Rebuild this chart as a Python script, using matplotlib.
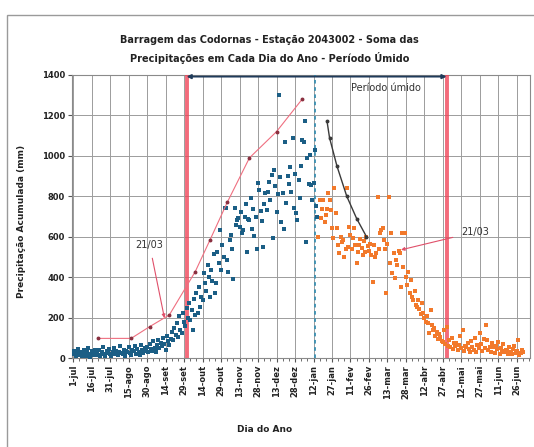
import matplotlib
matplotlib.use("Agg")
import matplotlib.pyplot as plt
from matplotlib.patches import Rectangle

# ---------------- data ----------------
tick_labels = ["1-jul", "16-jul", "31-jul", "15-ago", "30-ago", "14-set", "29-set",
               "14-out", "29-out", "13-nov", "28-nov", "13-dez", "28-dez", "12-jan",
               "27-jan", "11-fev", "26-fev", "13-mar", "28-mar", "12-abr", "27-abr",
               "12-mai", "27-mai", "11-jun", "26-jun"]
tick_days = [0, 15, 30, 45, 60, 75, 90, 105, 120, 135, 150, 165, 180, 195,
             210, 225, 240, 255, 270, 285, 300, 315, 330, 345, 360]

blue_start = 0
blue_vals = [
    20, 35, 10, 25, 45, 15, 30, 8, 22, 40, 12, 28, 50, 18, 6, 33, 24, 14, 42, 27,
    16, 38, 9, 30, 55, 20, 12, 35, 26, 44, 18, 8, 29, 48, 22, 36, 14, 31, 60, 25,
    19, 42, 11, 34, 28, 52, 23, 15, 40, 33, 58, 21, 45, 30, 17, 63, 38, 26, 49, 35,
    55, 28, 70, 44, 36, 82, 50, 31, 65, 90, 47, 75, 58, 100, 68, 42, 110, 85, 62, 95,
    130, 88, 150, 115, 175, 105, 210, 140, 125, 225, 180, 160,
    245, 200, 270, 188, 238, 139, 290, 215, 322, 223, 350, 254, 300,
    287, 421, 371, 330, 460, 400, 302, 436, 380, 515, 322, 371, 526, 470, 634,
    436, 560, 500, 742, 744, 485, 427, 584, 610, 540, 391, 744, 660, 683, 695, 650, 720, 617, 634, 700,
    760, 526, 688, 683, 790, 640, 738, 604, 700, 540, 866, 830, 725, 680, 551, 760, 815, 733, 823, 870,
    780, 906, 594, 930, 850, 720, 810, 1300, 897, 675, 815, 640, 1070, 767, 900, 860, 946, 820, 1087, 740,
    911, 718, 683, 880, 790, 950, 1080, 1070, 1170, 576, 990, 860, 1005, 856, 780, 866, 1030, 750, 700]

orange_start = 199
orange_vals = [
    600, 782, 693, 738, 782, 675, 708, 738, 815, 782, 733, 644,
    594, 841, 718, 644, 560, 520, 600, 575, 584, 500, 540, 841, 550, 650, 610, 540, 596, 644, 560, 470,
    526, 560, 590, 545, 510, 580, 526, 600, 555, 530, 564, 510, 378, 560, 500, 520, 798, 540, 619, 634,
    644, 585, 540, 322, 564, 798, 470, 619, 421, 520, 396, 485, 460, 530, 520, 353, 620, 452, 619, 402,
    360, 427, 322, 386, 300, 287, 330, 260, 254, 287, 240, 220, 270, 223, 198, 180, 210, 173, 124, 238,
    163, 139, 150, 110, 130, 95, 120, 104, 85, 81, 140, 70, 155, 60, 90, 54, 99, 45, 75, 60,
    74, 40, 65, 110, 50, 139, 35, 60, 54, 74, 45, 30, 85, 55, 40, 100, 28, 62, 48, 124,
    70, 35, 95, 50, 163, 89, 40, 54, 30, 75, 54, 25, 60, 45, 80, 20, 50, 35, 68, 28,
    40, 40, 22, 55, 30, 18, 45, 60, 25, 35, 89, 15, 25, 40, 30]

red_days = [20, 47, 62, 78, 99, 111, 125, 143, 165, 186]
red_vals = [97, 97, 155, 213, 427, 584, 770, 990, 1120, 1282]

dark_days = [206, 208, 214, 222, 230, 238]
dark_vals = [1170, 1090, 950, 800, 690, 600]

wet_start, wet_end = 92, 303
peak_day = 196

blue_days = list(range(blue_start, blue_start + len(blue_vals)))
orange_days = list(range(orange_start, orange_start + len(orange_vals)))

# ---------------- figure ----------------
W, H = 534, 447
fig = plt.figure(figsize=(W / 100, H / 100), dpi=100)
fig.patch.set_facecolor("white")
fig.patches.append(Rectangle((7 / W, -0.05), 1.2, 1 - 15 / H + 0.05,
                             transform=fig.transFigure, fill=False,
                             edgecolor="#9a9a9a", lw=1.0))

ax = fig.add_axes([72 / W, 1 - 358 / H, (530 - 72) / W, (358 - 75) / H])
ax.set_xlim(-1, 370.7)
ax.set_ylim(0, 1400)

ax.set_xticks(tick_days)
ax.set_xticklabels(tick_labels, rotation=90, fontsize=6, fontweight="bold", color="#222222")
ax.set_xticks(list(range(0, 371, 5)), minor=True)
ax.set_yticks(list(range(0, 1401, 200)))
ax.set_yticklabels([str(v) for v in range(0, 1401, 200)], fontsize=6, fontweight="bold", color="#222222")
ax.tick_params(axis="both", which="major", length=3, color="#555555", pad=2)
ax.tick_params(axis="x", which="minor", length=2, color="#555555")
ax.grid(True, which="major", color="#9c9c9c", lw=0.7)
ax.set_axisbelow(True)
for s in ax.spines.values():
    s.set_color("#8a8a8a")
    s.set_linewidth(0.8)

# wet period vertical lines
ax.axvline(wet_start, color="#f0465a", lw=2.8, alpha=0.8, zorder=3)
ax.axvline(wet_end, color="#f0465a", lw=2.8, alpha=0.8, zorder=3)
ax.axvline(peak_day, color="#3a8fb0", lw=1.3, ls=(0, (2, 2)), zorder=3)

# scatter
ax.scatter(blue_days, blue_vals, s=6, marker="s", color="#1b5e85", zorder=4, linewidths=0)
ax.scatter(orange_days, orange_vals, s=6, marker="s", color="#f2792b", zorder=4, linewidths=0)

# curves
ax.plot(red_days, red_vals, color="#ef6f80", lw=0.8, marker="o", ms=1.8,
        mfc="#8a3040", mec="#8a3040", zorder=5)
ax.plot(dark_days, dark_vals, color="#3a3a3a", lw=1.0, marker="o", ms=1.8, zorder=5)

# wet period arrow
ax.annotate("", xy=(wet_start, 1392), xytext=(wet_end, 1392),
            arrowprops=dict(arrowstyle="<|-|>", color="#1f3b5a", lw=1.3,
                            mutation_scale=6, shrinkA=0, shrinkB=0), zorder=6)
ax.text(254, 1336, "Período úmido", fontsize=7, color="#333333", ha="center", va="center")

# annotations
ax.annotate("21/03", xy=(74, 198), xytext=(62, 559), fontsize=7, color="#333333",
            ha="center", va="center",
            arrowprops=dict(arrowstyle="-|>", color="#e0506a", lw=0.8,
                            mutation_scale=5, shrinkA=4, shrinkB=0))
ax.annotate("21/03", xy=(266, 535), xytext=(326, 623), fontsize=7, color="#333333",
            ha="center", va="center",
            arrowprops=dict(arrowstyle="-|>", color="#e0506a", lw=0.8,
                            mutation_scale=5, shrinkA=4, shrinkB=0))

# titles
fig.text(0.505, 1 - 40 / H, "Barragem das Codornas - Estação 2043002 - Soma das",
         fontsize=7, fontweight="bold", color="#222222", ha="center", va="center")
fig.text(0.505, 1 - 58 / H, "Precipitações em Cada Dia do Ano - Período Úmido",
         fontsize=7, fontweight="bold", color="#222222", ha="center", va="center")
fig.text(22 / W, 1 - 221 / H, "Precipitação Acumulada (mm)", rotation=90,
         fontsize=6.5, fontweight="bold", color="#222222", ha="center", va="center")
fig.text(265 / W, 1 - 430 / H, "Dia do Ano", fontsize=6.5, fontweight="bold",
         color="#222222", ha="center", va="center")

fig.savefig("out.png", dpi=100)
